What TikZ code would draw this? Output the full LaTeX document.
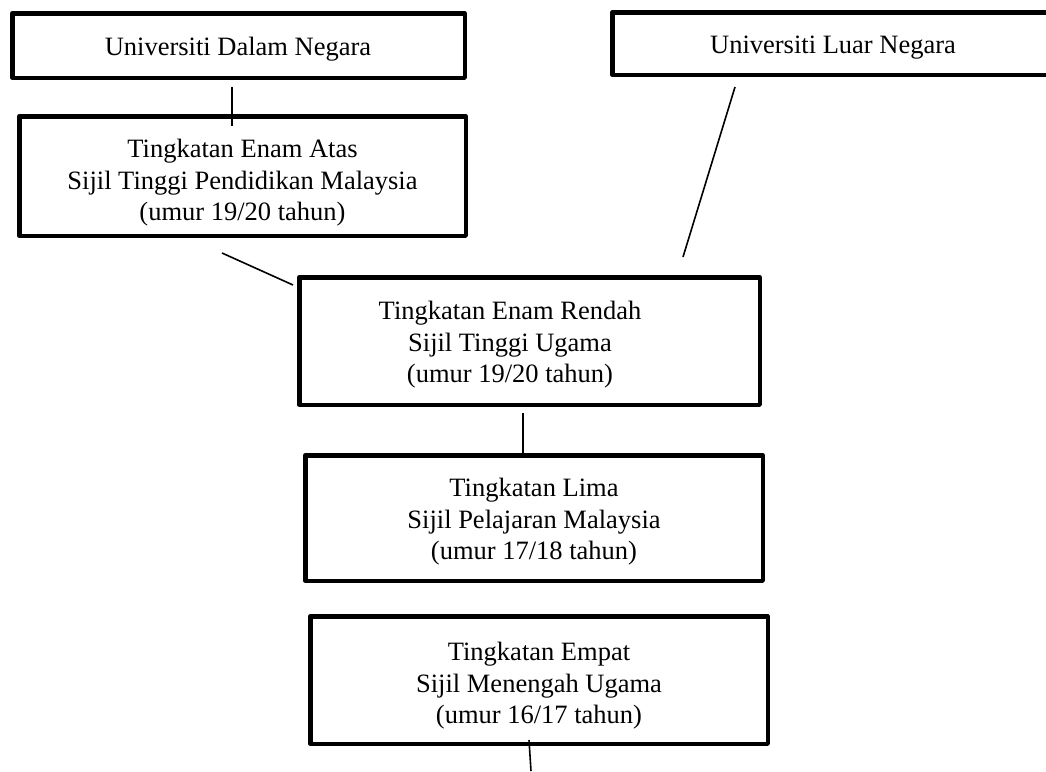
\documentclass[tikz,border=0pt]{standalone}
\usepackage{fontspec}
\setmainfont{Liberation Serif}
\usetikzlibrary{calc}
\tikzset{
  box/.style={draw, line width=4.5pt, inner sep=0pt, outer sep=0pt, line join=round, rectangle},
  txt/.style={font=\fontsize{26.5}{31.5}\selectfont, align=center, inner sep=0pt, outer sep=0pt},
  conn/.style={draw, line width=1.6pt}
}
\begin{document}
\begin{tikzpicture}[x=1pt,y=-1pt]
\useasboundingbox (0,0) rectangle (1046,771);
\clip (0,0) rectangle (1046,771);
% boxes
\node[box, minimum width=452.5pt, minimum height=64.5pt] (b1) at (238.5,45.5) {};
\node[box, minimum width=441.5pt, minimum height=62.5pt] (b2) at (833,43.5) {};
\node[box, minimum width=446.5pt, minimum height=119.5pt] (b3) at (242.5,176) {};
\node[box, minimum width=460.5pt, minimum height=127.5pt] (b4) at (529.5,341) {};
\node[box, minimum width=457.5pt, minimum height=125.5pt] (b5) at (534,518) {};
\node[box, minimum width=457.5pt, minimum height=127.5pt] (b6) at (539,680) {};
% texts
\node[txt, anchor=base] (t1) at (238,55) {Universiti Dalam Negara};
\node[txt, anchor=base] (t2) at (833,53) {Universiti Luar Negara};
\node[txt] (t3) at (242.5,183) {Tingkatan Enam Atas\\Sijil Tinggi Pendidikan Malaysia\\(umur 19/20 tahun)};
\node[txt] (t4) at (510,345) {Tingkatan Enam Rendah\\Sijil Tinggi Ugama\\(umur 19/20 tahun)};
\node[txt] (t5) at (534,522) {Tingkatan Lima\\Sijil Pelajaran Malaysia\\(umur 17/18 tahun)};
\node[txt] (t6) at (539,686) {Tingkatan Empat\\Sijil Menengah Ugama\\(umur 16/17 tahun)};
% connectors
\draw[conn] ($(b1.south)+(-6.5,9.25)$) -- ($(b3.north)+(-10.5,9.75)$);
\draw[conn] ($(b2.south)+(-98,12.25)$) -- ($(b4.north)+(153.5,-20.25)$);
\draw[conn] ($(b3.south)+(-20.5,17.25)$) -- ($(b4.north west)+(-6.25,7.75)$);
\draw[conn] ($(b4.south)+(-6.5,8.25)$) -- ($(b5.north)+(-11,-2.25)$);
\coordinate (bottomend) at (531,771);
\draw[conn] ($(b6.south)+(-10,-3.75)$) -- (bottomend);
\end{tikzpicture}
\end{document}
